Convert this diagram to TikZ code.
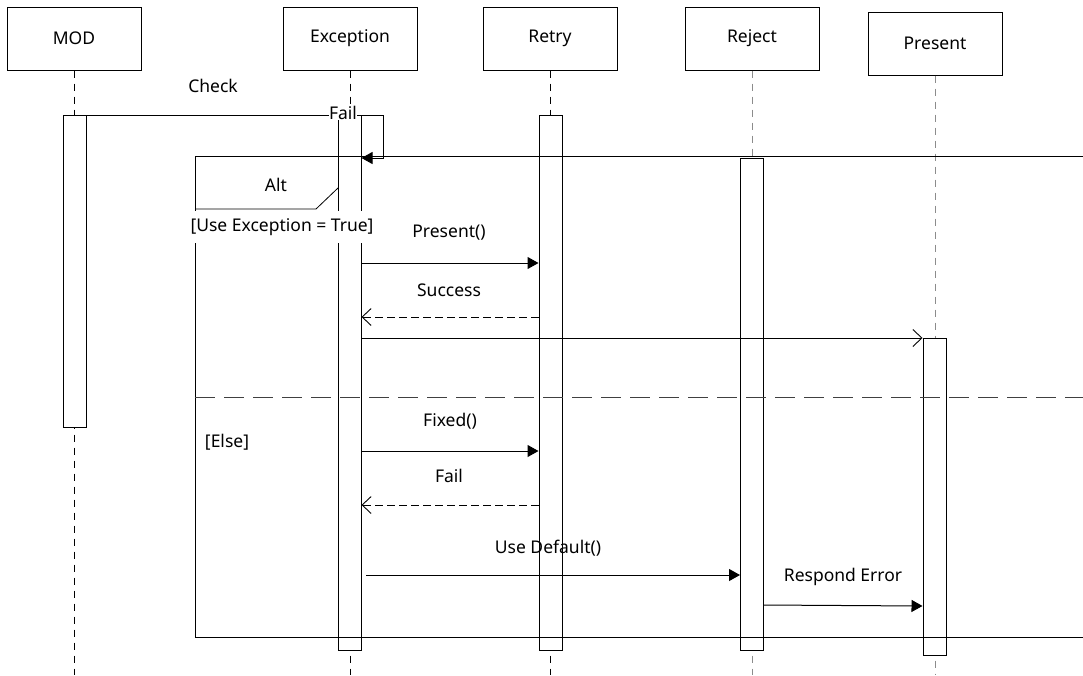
\documentclass[tikz,border=0pt]{standalone}
\usepackage{fontspec}
\setmainfont{Noto Sans}
\usetikzlibrary{arrows.meta}
\begin{document}
\begin{tikzpicture}[x=1pt,y=-1pt,
  font=\fontsize{17.5}{20}\selectfont,
  lifebox/.style={draw, line width=1pt, minimum width=134pt, minimum height=63pt, inner sep=0pt},
  lifeline/.style={dashed, dash pattern=on 7pt off 6pt, line width=0.9pt},
  lifelinegray/.style={lifeline, draw=black!45},
  actbox/.style={draw, fill=white, line width=1pt, minimum width=23pt, inner sep=0pt, anchor=north},
  frameline/.style={line width=0.8pt},
  msg/.style={line width=1pt, -{Triangle[length=11pt,width=12pt]}},
  ret/.style={line width=0.9pt, dashed, dash pattern=on 8pt off 4pt, -{Straight Barb[length=9pt,width=17pt]}},
  open/.style={line width=0.9pt, -{Straight Barb[length=9pt,width=17pt]}},
  lbl/.style={inner sep=1pt}
]
\useasboundingbox (0,0) rectangle (1083,675);

% participants
\node[lifebox] (mod) at (74,38.5) {MOD};
\node[lifebox] (exc) at (350,38.5) {Exception};
\node[lifebox] (rty) at (550,38.5) {Retry};
\node[lifebox] (rej) at (752,38.5) {Reject};
\node[lifebox] (pre) at (935,43.5) {Present};

% lifelines
\draw[lifeline] (mod.south) -- (mod.south |- 0,675);
\draw[lifeline] (exc.south) -- (exc.south |- 0,675);
\draw[lifeline] (rty.south) -- (rty.south |- 0,675);
\draw[lifelinegray] (rej.south) -- (rej.south |- 0,675);
\draw[lifelinegray] (pre.south) -- (pre.south |- 0,675);

% activations
\node[actbox, minimum height=312pt] (moda) at (74.5,115) {};
\node[actbox, minimum height=535pt] (exca) at (349.5,115) {};
\node[actbox, minimum height=535pt] (rtya) at (550.5,115) {};
\node[actbox, minimum height=492pt] (reja) at (752,158) {};
\node[actbox, minimum height=317pt] (prea) at (934.5,338) {};

% alt fragment
\coordinate (fr1) at (1083,156);
\coordinate (fr2) at (195,156);
\coordinate (fr3) at (195,637);
\coordinate (fr4) at (1083,637);
\draw[frameline] (fr1) -- (fr2) -- (fr3) -- (fr4);
\coordinate (pa) at (195,209);
\coordinate (pb) at (316,209);
\coordinate (pc) at (338,188);
\draw[frameline] (pa) -- (pb) -- (pc);
\node[lbl] (alt) at (276,185) {Alt};
\coordinate (sep1) at (195,397);
\coordinate (sep2) at (1083,397);
\draw[line width=1pt, draw=black!75, dash pattern=on 20pt off 9pt] (sep1) -- (sep2);
\node[lbl, fill=white, inner xsep=1pt, inner ysep=7pt] (guard1) at (282,227) {[Use Exception = True]};
\node[lbl] (guard2) at (227,442) {[Else]};

% messages
\draw[line width=1pt] (moda.east |- 0,115) -- (exca.west |- 0,115);
\node[lbl] (check) at (213,86) {Check};
\node[lbl, fill=white, inner sep=0.5pt] (fail1) at (343,113) {Fail};
\coordinate (s1) at (383,115);
\coordinate (s2) at (383,158);
\draw[msg] (exca.east |- 0,115) -- (s1) -- (s2) -- (exca.east |- 0,158);

\draw[msg] (exca.east |- 0,263) -- (rtya.west |- 0,263);
\node[lbl] (m1) at (449,233) {Present()};
\draw[ret] (rtya.west |- 0,317) -- (exca.east |- 0,317);
\node[lbl] (m2) at (449,290) {Success};
\draw[open] (exca.east |- 0,338) -- (prea.north west);

\draw[msg] (exca.east |- 0,451) -- (rtya.west |- 0,451);
\node[lbl] (m3) at (450,421) {Fixed()};
\draw[ret] (rtya.west |- 0,505) -- (exca.east |- 0,505);
\node[lbl] (m4) at (449,476) {Fail};

\coordinate (ud) at (366,575);
\draw[msg] (ud) -- (reja.west |- 0,575);
\node[lbl] (m5) at (548,548) {Use Default()};
\draw[msg] (reja.east |- 0,605) -- (prea.west |- 0,606);
\node[lbl] (m6) at (843,577) {Respond Error};
\end{tikzpicture}
\end{document}
